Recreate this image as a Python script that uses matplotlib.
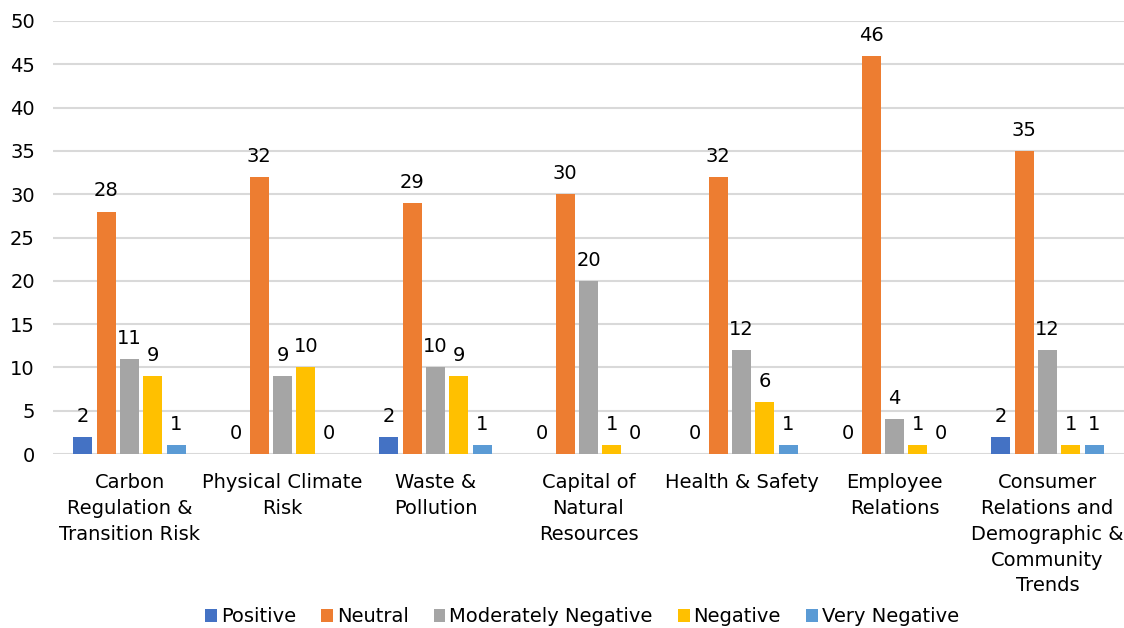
import numpy as np
import matplotlib.pyplot as plt

# Chart data
CATEGORIES = [
    "Carbon\nRegulation &\nTransition Risk",
    "Physical Climate\nRisk",
    "Waste &\nPollution",
    "Capital of\nNatural\nResources",
    "Health & Safety",
    "Employee\nRelations",
    "Consumer\nRelations and\nDemographic &\nCommunity\nTrends",
]
SERIES_NAMES = ["Positive", "Neutral", "Moderately Negative", "Negative", "Very Negative"]
POSITIVE = [2, 0, 2, 0, 0, 0, 2]
NEUTRAL = [28, 32, 29, 30, 32, 46, 35]
MODERATELY_NEGATIVE = [11, 9, 10, 20, 12, 4, 12]
NEGATIVE = [9, 10, 9, 1, 6, 1, 1]
VERY_NEGATIVE = [1, 0, 1, 0, 1, 0, 1]
Y_TICKS = [0, 5, 10, 15, 20, 25, 30, 35, 40, 45, 50]

COLORS = ["#4472C4", "#ED7D31", "#A5A5A5", "#FFC000", "#5B9BD5"]
FONT_SIZE = 14
BAR_PITCH = 0.153
BAR_WIDTH = 0.125


def main():
    plt.rcParams['font.family'] = ['DejaVu Sans']
    fig = plt.figure(figsize=(11.24, 6.28), dpi=100)
    ax = fig.add_axes([53 / 1124, 174 / 628, 1 - 53 / 1124, (454 - 21) / 628])

    series = [POSITIVE, NEUTRAL, MODERATELY_NEGATIVE, NEGATIVE, VERY_NEGATIVE]
    x = np.arange(len(CATEGORIES))
    n = len(series)
    for i, (name, vals, color) in enumerate(zip(SERIES_NAMES, series, COLORS)):
        offs = (i - (n - 1) / 2) * BAR_PITCH
        bars = ax.bar(x + offs, vals, BAR_WIDTH, color=color, label=name, zorder=3)
        for b, v in zip(bars, vals):
            ax.annotate(str(v), (b.get_x() + b.get_width() / 2, v),
                        xytext=(0, 8), textcoords='offset points',
                        ha='center', va='bottom', fontsize=FONT_SIZE)

    ax.set_xlim(-0.5, len(CATEGORIES) - 0.5)
    ax.set_ylim(0, 50)
    ax.set_yticks(Y_TICKS)
    ax.set_xticks(x)
    ax.set_xticklabels(CATEGORIES, fontsize=FONT_SIZE, linespacing=1.45)
    ax.tick_params(axis='both', length=0, labelsize=FONT_SIZE)
    ax.tick_params(axis='y', pad=13)
    ax.tick_params(axis='x', pad=14)
    ax.grid(axis='y', color='#D9D9D9', linewidth=1.5, zorder=0)
    for s in ax.spines.values():
        s.set_visible(False)

    fig.legend(loc='center', bbox_to_anchor=(582 / 1124, 1 - 617 / 628), ncol=5,
               frameon=False, fontsize=FONT_SIZE, handlelength=0.6, handleheight=0.6,
               handletextpad=0.2, columnspacing=1.3, borderpad=0.2)

    fig.savefig("out.png", dpi=100)


if __name__ == "__main__":
    main()
